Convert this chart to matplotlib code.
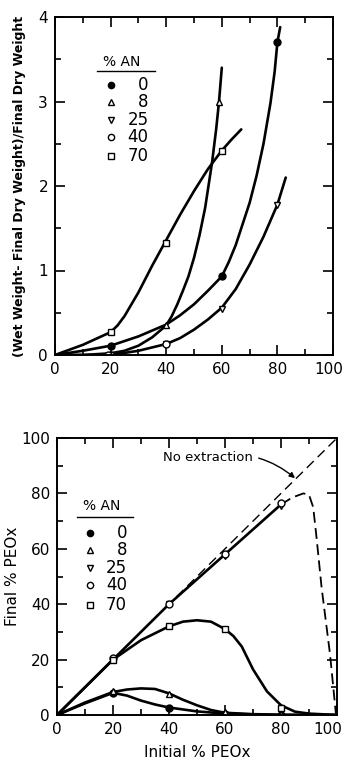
import matplotlib
matplotlib.use("Agg")
import matplotlib.pyplot as plt
import matplotlib.transforms as mtrans
from matplotlib.ticker import MultipleLocator

plt.rcParams['font.family'] = ['DejaVu Sans']

# ---- top panel: swelling ratio vs initial % PEOx ----
# measured points
an_labels = ['0', '8', '25', '40', '70']
top_pts = {
    '0':  ([20, 60, 80], [0.11, 0.93, 3.7]),
    '8':  ([20, 40, 59], [0.01, 0.35, 3.0]),
    '25': ([20, 40, 60, 80], [0.0, 0.13, 0.55, 1.78]),
    '40': ([19, 40], [0.0, 0.13]),
    '70': ([20, 40, 60], [0.27, 1.33, 2.42]),
}
# hand drawn curves
top_curve_0_x = [0, 10, 20, 30, 40, 45, 50, 55, 60, 62.5, 65, 67.5, 70, 72.5, 75, 77.5, 79, 80, 81]
top_curve_0_y = [0, 0.05, 0.11, 0.22, 0.36, 0.47, 0.6, 0.76, 0.93, 1.1, 1.3, 1.55, 1.8, 2.12, 2.5, 2.98, 3.35, 3.7, 3.88]
top_curve_8_x = [0, 10, 20, 25, 30, 35, 40, 42, 44, 46, 48, 50, 52, 54, 56.5, 58, 59, 60]
top_curve_8_y = [0, 0.0, 0.02, 0.05, 0.11, 0.21, 0.35, 0.46, 0.6, 0.76, 0.93, 1.15, 1.42, 1.74, 2.28, 2.68, 3.0, 3.4]
top_curve_25_x = [0, 10, 20, 30, 40, 45, 50, 55, 60, 65, 70, 75, 80, 83]
top_curve_25_y = [0, 0, 0.0, 0.05, 0.13, 0.2, 0.3, 0.42, 0.56, 0.78, 1.07, 1.4, 1.78, 2.1]
top_curve_70_x = [0, 10, 20, 22.5, 25, 30, 35, 40, 45, 50, 55, 60, 63.5, 67]
top_curve_70_y = [0, 0.12, 0.27, 0.35, 0.46, 0.74, 1.06, 1.36, 1.66, 1.94, 2.2, 2.42, 2.55, 2.67]

# ---- bottom panel: final vs initial % PEOx ----
bot_pts = {
    '0':  ([20, 40, 60, 80], [7.8, 2.7, 0.5, 0.0]),
    '8':  ([20, 40, 60, 80], [8.5, 7.5, 1.0, 0.2]),
    '25': ([20, 40, 60, 80], [20, 40, 57.5, 75.5]),
    '40': ([20, 40, 60, 80], [20.5, 40, 58, 76.5]),
    '70': ([20, 40, 60, 80], [20, 32, 31, 2.4]),
}
bot_curve_0_x = [0, 10, 20, 25, 30, 35, 40, 50, 60, 70, 80, 90, 100]
bot_curve_0_y = [0, 4.2, 8, 7, 5.2, 3.8, 2.7, 1.3, 0.5, 0.2, 0, 0, 0]
bot_curve_8_x = [0, 10, 20, 25, 30, 35, 40, 45, 50, 55, 60, 70, 80, 90, 100]
bot_curve_8_y = [0, 4.5, 8.3, 9.2, 9.6, 9.4, 7.8, 5.5, 3.5, 1.8, 0.8, 0.3, 0.1, 0, 0]
bot_curve_diag_x = [0, 20, 40, 60, 80]
bot_curve_diag_y = [0, 20, 40, 58, 76]
bot_curve_70_x = [0, 10, 20, 30, 40, 45, 50, 55, 60, 63, 66, 70, 75, 80, 85, 90, 100]
bot_curve_70_y = [0, 10, 20, 27, 32, 33.7, 34.2, 33.7, 31, 28.5, 24.7, 16.5, 8.5, 3.5, 1.2, 0.5, 0]
bot_dash_x = [80, 84, 88, 90, 91.5, 92.7, 94.5, 97.5, 99.6]
bot_dash_y = [76, 78.5, 80, 79.5, 75, 64, 46, 22, 0.5]
no_extr_x = [0, 100]
no_extr_y = [0, 100]

x_ticks = [0, 20, 40, 60, 80, 100]

marker_style = {
    '0':  dict(marker='o', mfc='black', mec='black', ms=5),
    '8':  dict(marker='^', mfc='white', mec='black', ms=5),
    '25': dict(marker='v', mfc='white', mec='black', ms=5),
    '40': dict(marker='o', mfc='white', mec='black', ms=5),
    '70': dict(marker='s', mfc='white', mec='black', ms=5),
}

fs = 11
W, H = 346, 763
fig = plt.figure(figsize=(W / 100, H / 100), dpi=100)
ax1 = fig.add_axes([55 / W, 1 - 355 / H, 278 / W, 338 / H])
ax2 = fig.add_axes([57 / W, 1 - 715 / H, 280 / W, 277 / H])


def style_axes(ax):
    for s in ax.spines.values():
        s.set_linewidth(1.4)
    ax.tick_params(which='both', direction='in', top=True, right=True,
                   labelsize=fs, width=1.2, pad=5)
    ax.tick_params(which='major', length=7)
    ax.tick_params(which='minor', length=4)


def pull_last_xlabel(ax, dx):
    # keep the "100" label inside the figure like in the scan
    lbl = ax.xaxis.get_major_ticks()[-1].label1
    lbl.set_transform(lbl.get_transform() +
                      mtrans.ScaledTranslation(-dx / 100, 0, fig.dpi_scale_trans))


def draw_legend(ax, x_mark, x_num, y_rows, y_title, x_title, line_x0, line_x1, y_line):
    ax.text(x_title, y_title, '% AN', transform=ax.transAxes, ha='center',
            va='center', fontsize=fs - 1)
    ax.plot([line_x0, line_x1], [y_line, y_line], color='black', lw=1.0,
            transform=ax.transAxes, clip_on=False)
    for lab, yy in zip(an_labels, y_rows):
        ax.plot([x_mark], [yy], transform=ax.transAxes, ls='none',
                **dict(marker_style[lab], ms=4.5))
        ax.text(x_num, yy, lab, transform=ax.transAxes, ha='right',
                va='center', fontsize=fs + 1)


# top panel
for cx, cy in [(top_curve_0_x, top_curve_0_y), (top_curve_8_x, top_curve_8_y),
               (top_curve_25_x, top_curve_25_y), (top_curve_70_x, top_curve_70_y)]:
    ax1.plot(cx, cy, color='black', lw=1.9, solid_capstyle='round',
             solid_joinstyle='round')
for lab in an_labels:
    px, py = top_pts[lab]
    ax1.plot(px, py, ls='none', **marker_style[lab])

ax1.set_xlim(0, 100)
ax1.set_ylim(0, 4)
ax1.set_xticks(x_ticks)
ax1.xaxis.set_minor_locator(MultipleLocator(10))
ax1.yaxis.set_major_locator(MultipleLocator(1))
ax1.yaxis.set_minor_locator(MultipleLocator(0.5))
style_axes(ax1)
ax1.set_ylabel('(Wet Weight- Final Dry Weight)/Final Dry Weight',
               fontsize=9, fontweight='bold', labelpad=9)
draw_legend(ax1, 0.20, 0.336, [0.799, 0.749, 0.695, 0.645, 0.589],
            0.867, 0.239, 0.15, 0.36, 0.840)

# bottom panel
ax2.plot(no_extr_x, no_extr_y, color='black', lw=1.0, dashes=(7, 4))
ax2.plot(bot_dash_x, bot_dash_y, color='black', lw=1.3, dashes=(6, 3))
for cx, cy in [(bot_curve_0_x, bot_curve_0_y), (bot_curve_8_x, bot_curve_8_y),
               (bot_curve_diag_x, bot_curve_diag_y), (bot_curve_70_x, bot_curve_70_y)]:
    ax2.plot(cx, cy, color='black', lw=1.9, solid_capstyle='round',
             solid_joinstyle='round')
for lab in an_labels:
    px, py = bot_pts[lab]
    ax2.plot(px, py, ls='none', **marker_style[lab])

ax2.annotate('No extraction', xy=(85, 85.5), xytext=(38, 93),
             fontsize=9.5, va='center', ha='left',
             arrowprops=dict(arrowstyle='-|>', color='black', lw=1.0,
                             connectionstyle='arc3,rad=-0.25', shrinkA=2,
                             shrinkB=0, mutation_scale=8))
ax2.set_xlim(0, 100)
ax2.set_ylim(0, 100)
ax2.set_xticks(x_ticks)
ax2.xaxis.set_minor_locator(MultipleLocator(10))
ax2.yaxis.set_major_locator(MultipleLocator(20))
ax2.yaxis.set_minor_locator(MultipleLocator(10))
style_axes(ax2)
ax2.set_xlabel('Initial % PEOx', fontsize=fs, labelpad=6)
ax2.set_ylabel('Final % PEOx', fontsize=fs, labelpad=1)
draw_legend(ax2, 0.118, 0.25, [0.657, 0.596, 0.531, 0.469, 0.397],
            0.755, 0.161, 0.071, 0.271, 0.715)

pull_last_xlabel(ax1, 4)
pull_last_xlabel(ax2, 9)

fig.savefig('out.png', dpi=100)
